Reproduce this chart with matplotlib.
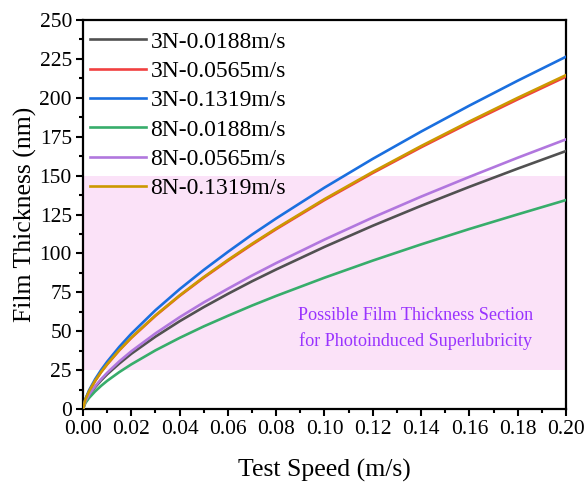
import matplotlib
matplotlib.use("Agg")
import matplotlib.pyplot as plt
from matplotlib.ticker import MultipleLocator

plt.rcParams['font.family'] = ['Liberation Serif', 'DejaVu Serif']
plt.rcParams['mathtext.fontset'] = 'stix'

# Test speed (m/s)
speed = [0.0, 0.001, 0.0025, 0.005, 0.0075, 0.01, 0.015, 0.02, 0.03, 0.04,
         0.05, 0.06, 0.07, 0.08, 0.10, 0.12, 0.14, 0.16, 0.18, 0.20]

# Film thickness (nm) for each load / condition
h_3n_0188 = [0.0, 4.8, 8.8, 14.0, 18.4, 22.3, 29.2, 35.5, 46.5, 56.4,
             65.5, 74.0, 82.1, 89.7, 104.2, 117.8, 130.6, 142.8, 154.5, 165.8]
h_3n_0565 = [0.0, 6.1, 11.3, 18.0, 23.7, 28.7, 37.7, 45.7, 59.9, 72.7,
             84.4, 95.3, 105.7, 115.6, 134.3, 151.7, 168.2, 183.9, 199.0, 213.6]
h_3n_1319 = [0.0, 6.5, 12.0, 19.1, 25.1, 30.4, 39.9, 48.4, 63.5, 77.0,
             89.4, 101.0, 112.1, 122.5, 142.3, 160.8, 178.3, 195.0, 211.0, 226.4]
h_8n_0188 = [0.0, 3.9, 7.1, 11.3, 14.9, 18.1, 23.7, 28.7, 37.7, 45.7,
             53.1, 59.9, 66.5, 72.7, 84.4, 95.4, 105.8, 115.7, 125.1, 134.3]
h_8n_0565 = [0.0, 5.0, 9.2, 14.6, 19.2, 23.3, 30.6, 37.1, 48.6, 59.0,
             68.5, 77.3, 85.8, 93.8, 108.9, 123.1, 136.5, 149.2, 161.5, 173.3]
h_8n_1319 = [0.0, 6.2, 11.4, 18.1, 23.8, 28.8, 37.8, 45.9, 60.2, 73.0,
             84.8, 95.8, 106.2, 116.1, 134.9, 152.4, 169.0, 184.8, 200.0, 214.6]

labels = ['3N-0.0188m/s', '3N-0.0565m/s', '3N-0.1319m/s',
          '8N-0.0188m/s', '8N-0.0565m/s', '8N-0.1319m/s']
series = [h_3n_0188, h_3n_0565, h_3n_1319, h_8n_0188, h_8n_0565, h_8n_1319]
colors = ['#515151', '#F14040', '#1A6FDF', '#37AD6B', '#B177DE', '#CC9900']

# Thickness band of interest (nm)
band = [25, 150]

fig = plt.figure(figsize=(5.87, 4.86), dpi=100)
ax = fig.add_axes([0.1414, 0.1584, 0.8228, 0.8004])

ax.axhspan(band[0], band[1], color='#FBE2F8', zorder=0, lw=0)

for y, lab, c in zip(series, labels, colors):
    ax.plot(speed, y, color=c, lw=1.9, label=lab, zorder=3)

ax.set_xlim(0, 0.20)
ax.set_ylim(0, 250)
ax.xaxis.set_major_locator(MultipleLocator(0.02))
ax.xaxis.set_minor_locator(MultipleLocator(0.01))
ax.yaxis.set_major_locator(MultipleLocator(25))
ax.yaxis.set_minor_locator(MultipleLocator(12.5))
ax.xaxis.set_major_formatter(plt.FuncFormatter(lambda v, p: f'{v:.2f}'))

ax.tick_params(axis='both', which='major', direction='out', length=5,
               width=1.5, labelsize=15.5, colors='black', pad=3)
ax.tick_params(axis='both', which='minor', direction='out', length=3,
               width=1.5)
ax.tick_params(top=False, right=False, which='both')
for s in ax.spines.values():
    s.set_linewidth(1.6)
    s.set_color('black')

ax.set_xlabel('Test Speed (m/s)', fontsize=18.5, labelpad=14)
ax.set_ylabel('Film Thickness (nm)', fontsize=18.5, labelpad=2)

ax.text(0.1377, 51.7, 'Possible Film Thickness Section\nfor Photoinduced Superlubricity',
        color='#9933FF', fontsize=13.1, ha='center', va='center',
        linespacing=1.6, zorder=4)

leg = ax.legend(loc='upper left', frameon=False, fontsize=17,
                handlelength=2.35, handletextpad=0.2, labelspacing=0.33,
                borderaxespad=0.05, borderpad=0.42,
                bbox_to_anchor=(-0.008, 1.0))

fig.savefig('out.png', dpi=100)
